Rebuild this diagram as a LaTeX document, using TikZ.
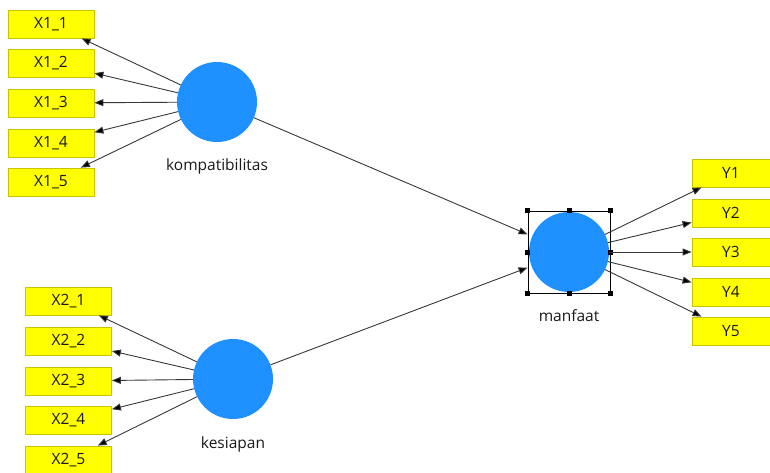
\documentclass[tikz,border=0pt]{standalone}
\usepackage{fontspec}
\setmainfont{Open Sans}
\usetikzlibrary{arrows.meta}
\definecolor{lvblue}{HTML}{1E90FF}
\definecolor{indyellow}{HTML}{FFFF00}
\definecolor{indborder}{HTML}{C8C400}
\definecolor{linegray}{HTML}{383838}
\tikzset{
  indbox/.style={rectangle, minimum width=86pt, minimum height=28pt, inner sep=0pt,
    fill=indyellow, draw=indborder, line width=0.8pt, font=\fontsize{15.5}{17}\selectfont, text=black!90},
  latent/.style={circle, minimum size=80pt, inner sep=0pt, fill=lvblue},
  lvlabel/.style={anchor=base, font=\fontsize{15.5}{17}\selectfont, text=black!90},
  conn/.style={draw=linegray, line width=0.9pt, -{Triangle[length=9pt,width=7pt,fill=black]}},
  selbox/.style={rectangle, minimum size=82pt, inner sep=0pt, draw=black, line width=0.8pt},
  handle/.style={rectangle, minimum size=5pt, inner sep=0pt, fill=black}
}
\begin{document}
\begin{tikzpicture}[x=1pt,y=-1pt]
\useasboundingbox (0,0) rectangle (770,473);
\clip (0,0) rectangle (770,473);
% latent variables
\node[latent] (k) at (217,102) {};
\node[latent] (s) at (233,379) {};
\node[latent] (mc) at (569,252) {};
\node[selbox] (m) at (569,252) {};
\foreach \a in {north west,north,north east,east,south east,south,south west,west}
  \node[handle] at (m.\a) {};
\node[lvlabel] (kl) at (217,171) {kompatibilitas};
\node[lvlabel] (sl) at (233,448) {kesiapan};
\node[lvlabel] (ml) at (569,321) {manfaat};
% X1 indicators
\node[indbox] (x11) at (51,24) {X1\_1};
\node[indbox] (x12) at (51,63) {X1\_2};
\node[indbox] (x13) at (51,103) {X1\_3};
\node[indbox] (x14) at (51,143) {X1\_4};
\node[indbox] (x15) at (51,182) {X1\_5};
% X2 indicators
\node[indbox] (x21) at (68.5,301) {X2\_1};
\node[indbox] (x22) at (68.5,341) {X2\_2};
\node[indbox] (x23) at (68.5,381) {X2\_3};
\node[indbox] (x24) at (68.5,420) {X2\_4};
\node[indbox] (x25) at (68.5,460) {X2\_5};
% Y indicators
\node[indbox, minimum width=78pt] (y1) at (731,173) {Y1};
\node[indbox, minimum width=78pt] (y2) at (731,213) {Y2};
\node[indbox, minimum width=78pt] (y3) at (731,252) {Y3};
\node[indbox, minimum width=78pt] (y4) at (731,292) {Y4};
\node[indbox, minimum width=78pt] (y5) at (731,331) {Y5};
% connectors
\foreach \t in {x11,x12,x13,x14,x15} \draw[conn] (k) -- (\t);
\foreach \t in {x21,x22,x23,x24,x25} \draw[conn] (s) -- (\t);
\foreach \t in {y1,y2,y3,y4,y5} \draw[conn] (mc) -- (\t);
\draw[conn] (k) -- (m);
\draw[conn] (s) -- (m);
\end{tikzpicture}
\end{document}
